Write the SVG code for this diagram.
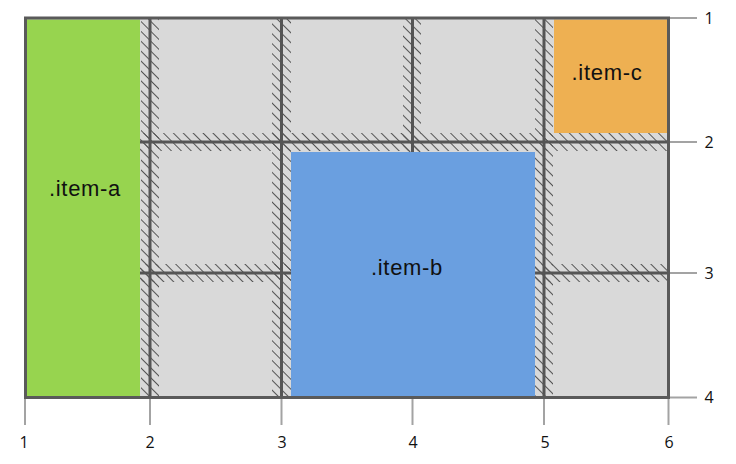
<svg xmlns="http://www.w3.org/2000/svg" width="736" height="464" viewBox="0 0 736 464">
  <defs>
    <pattern id="hatch" patternUnits="userSpaceOnUse" width="7" height="7" patternTransform="rotate(-45)">
      <line x1="0" y1="0" x2="0" y2="7" stroke="#555555" stroke-width="2"/>
    </pattern>
  </defs>
  <style>
    .cell{fill:#d9d9d9}
    .band{fill:url(#hatch)}
    .gl{stroke:#555555;stroke-width:3;fill:none}
    .tick{stroke:#a3a3a3;stroke-width:2;fill:none}
    .num{font-family:"Open Sans","Liberation Sans",sans-serif;font-size:16px;fill:#111}
    .lbl{font-family:"Liberation Sans",Arial,sans-serif;font-size:22px;letter-spacing:0.7px;fill:#111;text-anchor:middle}
  </style>
  <rect class="cell" x="25" y="18" width="643" height="379"/>
  <g id="gutters">
    <rect class="band" x="141" y="19" width="18" height="377"/>
    <rect class="band" x="272" y="19" width="19" height="377"/>
    <rect class="band" x="403" y="19" width="18" height="377"/>
    <rect class="band" x="535" y="19" width="18" height="377"/>
    <rect class="band" x="27" y="133" width="640" height="18"/>
    <rect class="band" x="27" y="264" width="640" height="18"/>
  </g>
  <g id="gridlines">
    <line class="gl" x1="150" y1="18" x2="150" y2="397"/>
    <line class="gl" x1="281.5" y1="18" x2="281.5" y2="397"/>
    <line class="gl" x1="412.5" y1="18" x2="412.5" y2="397"/>
    <line class="gl" x1="544" y1="18" x2="544" y2="397"/>
    <line class="gl" x1="25" y1="142" x2="668" y2="142"/>
    <line class="gl" x1="25" y1="273" x2="668" y2="273"/>
  </g>
  <g id="item-a">
    <rect x="27" y="19.5" width="113" height="376.5" fill="#97d44f"/>
    <text class="lbl" x="85" y="196">.item-a</text>
  </g>
  <g id="item-b">
    <rect x="291" y="152" width="244" height="244" fill="#6a9fe0"/>
    <text class="lbl" x="407" y="275">.item-b</text>
  </g>
  <g id="item-c">
    <rect x="554" y="19.5" width="113" height="113.5" fill="#eeb052"/>
    <text class="lbl" x="607" y="80">.item-c</text>
  </g>
  <rect x="25.5" y="18" width="643" height="379.5" fill="none" stroke="#5a5a5a" stroke-width="3"/>
  <g id="axes">
    <line class="tick" x1="25" y1="399" x2="25" y2="425"/>
    <line class="tick" x1="150" y1="399" x2="150" y2="425"/>
    <line class="tick" x1="281.5" y1="399" x2="281.5" y2="425"/>
    <line class="tick" x1="412.5" y1="399" x2="412.5" y2="425"/>
    <line class="tick" x1="544" y1="399" x2="544" y2="425"/>
    <line class="tick" x1="668.5" y1="399" x2="668.5" y2="425"/>
    <line class="tick" x1="670" y1="18" x2="697" y2="18"/>
    <line class="tick" x1="670" y1="142" x2="697" y2="142"/>
    <line class="tick" x1="670" y1="273" x2="697" y2="273"/>
    <line class="tick" x1="670" y1="397.5" x2="697" y2="397.5"/>
    <g class="num" text-anchor="middle">
      <text x="24" y="448">1</text>
      <text x="150" y="448">2</text>
      <text x="282" y="448">3</text>
      <text x="413" y="448">4</text>
      <text x="545" y="448">5</text>
      <text x="669" y="448">6</text>
    </g>
    <g class="num" text-anchor="middle">
      <text x="709" y="24">1</text>
      <text x="709" y="148">2</text>
      <text x="709" y="279">3</text>
      <text x="709" y="403">4</text>
    </g>
  </g>
</svg>
